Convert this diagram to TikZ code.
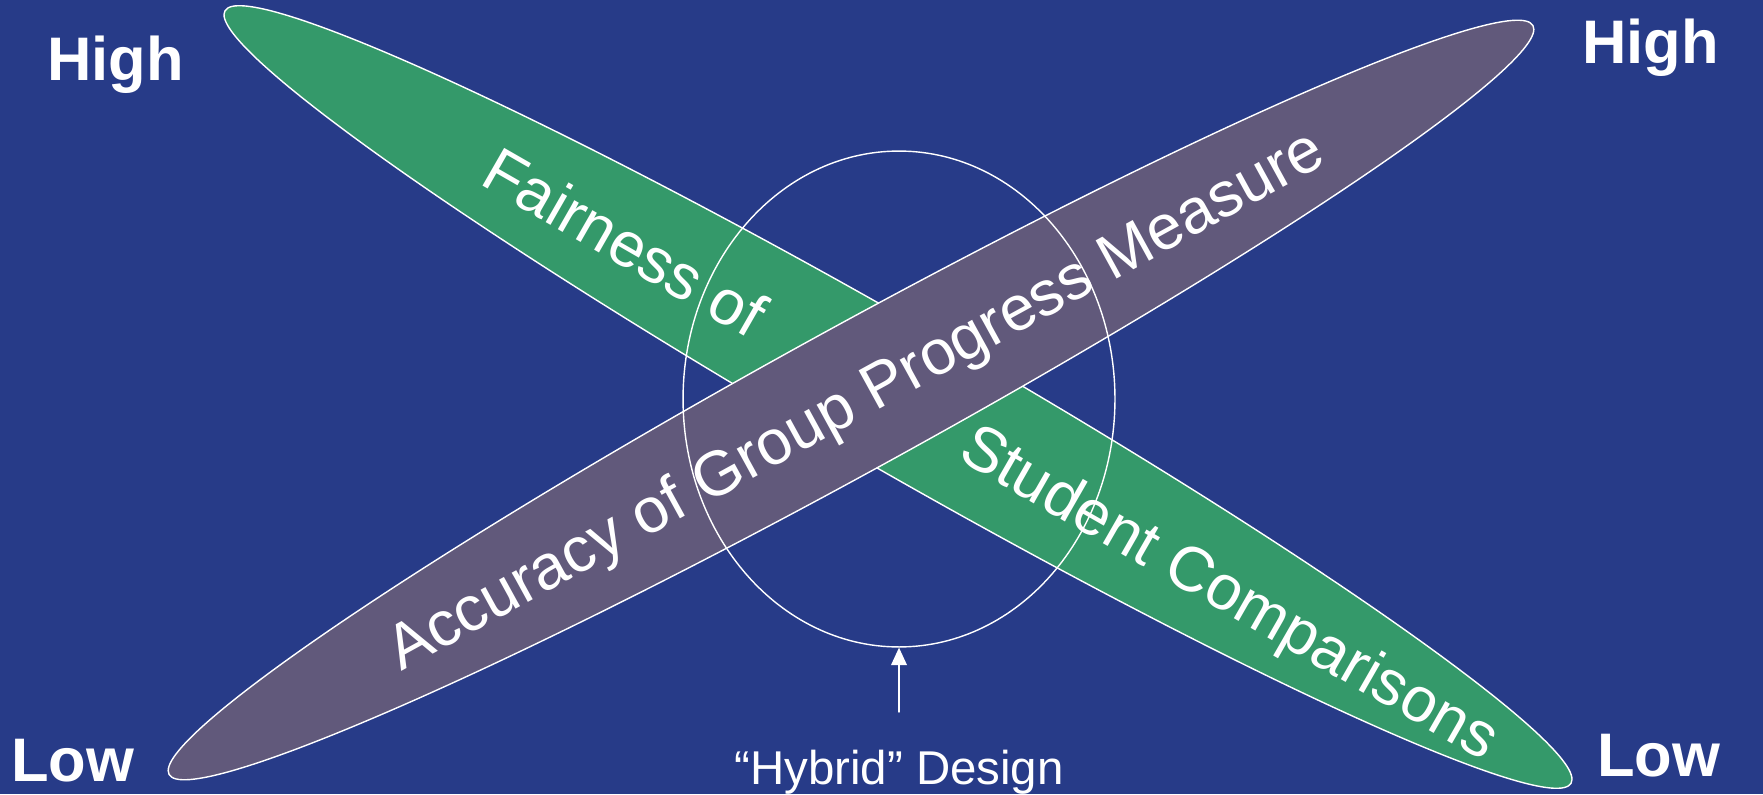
\documentclass[tikz,border=0pt]{standalone}
\usepackage{fontspec}
\setmainfont{Liberation Sans}
\usetikzlibrary{shapes.geometric,arrows.meta}
\definecolor{slideblue}{RGB}{39,59,136}
\definecolor{fairgreen}{RGB}{52,153,106}
\definecolor{accpurple}{RGB}{97,89,123}

\begin{document}
\begin{tikzpicture}[x=0.02cm,y=-0.02cm,>={Triangle[length=10pt,width=9pt]}, line join=round, line cap=round,
	band/.style={draw=white,line width=0.8pt},
	level/.style={text=white,inner sep=0pt,anchor=base west,font=\fontsize{35}{40}\selectfont\bfseries},
	along/.style={text=white,inner sep=0pt,font=\fontsize{36}{40}\selectfont}]
	\fill[slideblue] (0,0) rectangle (1763,794);
	\useasboundingbox (0,0) rectangle (1763,794);
	% the two crossing bands
	\draw[band,fill=fairgreen,rotate around={-29.85:(898,397)}] (898,397) ellipse [x radius=776,y radius=72];
	\draw[band,fill=accpurple,rotate around={28.77:(851,400)}] (851,400) ellipse [x radius=778,y radius=72];
	\node[along,rotate=-29.85] (fair) at (625,242) {Fairness of};
	\node[along,rotate=-29.85] (stud) at (1228,596) {Student Comparisons};
	\node[along,rotate=28.77] (acc) at (857,403) {Accuracy of Group Progress Measure};
	% hybrid region and its label
	\node[ellipse,draw=white,line width=0.8pt,inner sep=0pt,minimum width=8.64cm,minimum height=9.92cm] (hybrid) at (899,399) {};
	\node[text=white,inner sep=0pt,anchor=base,font=\fontsize{27}{32}\selectfont] (hyblabel) at (899,784) {“Hybrid” Design};
	\coordinate (tail) at (899,712);
	\draw[->,white,line width=0.8pt] (tail) -- (hybrid.south);
	% ends of the scales
	\node[level] (highL) at (47,81) {High};
	\node[level] (highR) at (1582,64) {High};
	\node[level] (lowL) at (11,781) {Low};
	\node[level] (lowR) at (1597,776) {Low};
\end{tikzpicture}
\end{document}
